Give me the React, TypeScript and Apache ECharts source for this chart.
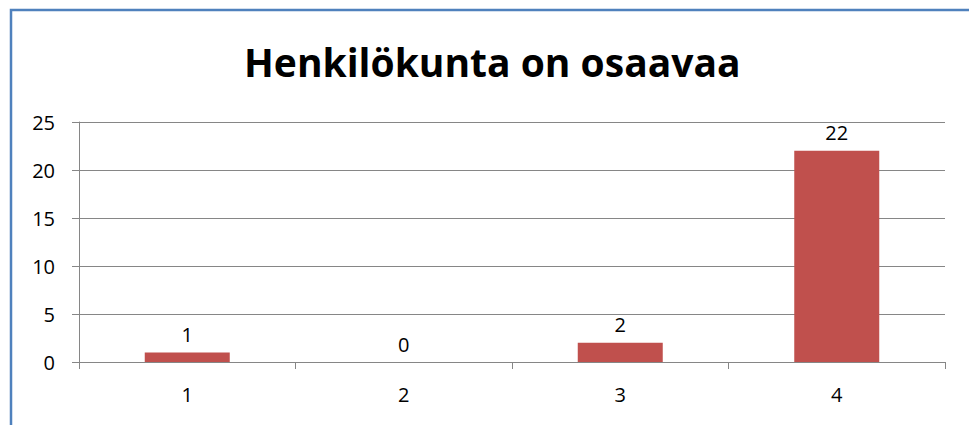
import React, { useEffect, useRef } from "react";
import * as echarts from "echarts";

const categories = ["1", "2", "3", "4"];
const values = [1, 0, 2, 22];
const titleText = "Henkilökunta on osaavaa";

export default function App() {
  const ref = useRef<HTMLDivElement>(null);
  useEffect(() => {
    if (!ref.current) return;
    const chart = echarts.init(ref.current, undefined, { renderer: "svg" });
    const font = "'Open Sans', sans-serif";
    chart.setOption({
      animation: false,
      backgroundColor: "#ffffff",
      graphic: [
        {
          type: "rect",
          shape: { x: 11, y: 10, width: 1000, height: 500 },
          style: { fill: "none", stroke: "#4F81BD", lineWidth: 2.5 },
          silent: true,
        },
      ],
      title: {
        text: titleText,
        left: 239,
        top: 37,
        textStyle: { fontFamily: font, fontSize: 39, fontWeight: "bold", color: "#000" },
      },
      grid: { left: 79, right: 24, top: 122, bottom: 63 },
      xAxis: {
        type: "category",
        data: categories,
        axisLine: { lineStyle: { color: "#868686", width: 1 } },
        axisTick: { show: true, length: 7, lineStyle: { color: "#868686" } },
        axisLabel: { fontFamily: font, fontSize: 20, color: "#000", margin: 22 },
      },
      yAxis: {
        type: "value",
        min: 0,
        max: 25,
        interval: 5,
        axisLine: { show: true, lineStyle: { color: "#868686", width: 1 } },
        axisTick: { show: true, length: 7, lineStyle: { color: "#868686" } },
        axisLabel: { fontFamily: font, fontSize: 20, color: "#000", margin: 24 },
        splitLine: { lineStyle: { color: "#868686", width: 1 } },
      },
      series: [
        {
          type: "bar",
          data: values,
          barWidth: 85,
          itemStyle: { color: "#C0504D" },
          label: {
            show: true,
            position: "top",
            distance: 8,
            fontFamily: font,
            fontSize: 20,
            color: "#000",
          },
        },
      ],
    });
    return () => chart.dispose();
  }, []);
  return (
    <div
      ref={ref}
      style={{ position: "fixed", left: 0, top: 0, width: 969, height: 425 }}
    />
  );
}
